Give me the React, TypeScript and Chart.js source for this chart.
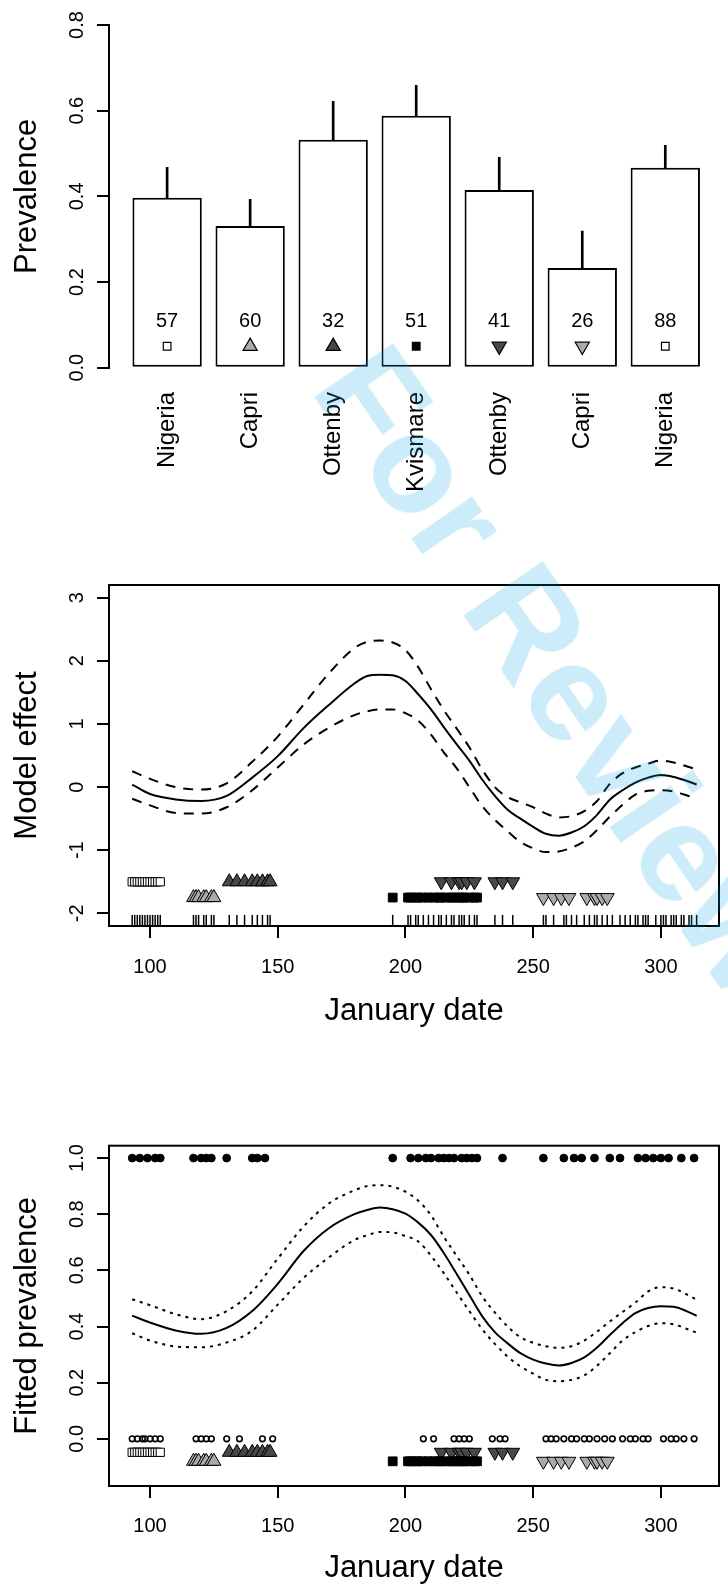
import React, { useEffect, useRef } from "react";
import { Chart, registerables } from "chart.js";

Chart.register(...registerables);

const FONT = '"Liberation Sans", Arial, Helvetica, sans-serif';
Chart.defaults.font.family = FONT;
Chart.defaults.color = "#000";

// ---------- Panel 1: prevalence per site ----------
const sites = ["Nigeria", "Capri", "Ottenby", "Kvismare", "Ottenby", "Capri", "Nigeria"];
const prevalence = [0.397, 0.331, 0.532, 0.588, 0.415, 0.233, 0.467];
const prevalenceUpper = [0.468, 0.393, 0.622, 0.659, 0.491, 0.319, 0.519];
const sampleSizes = [57, 60, 32, 51, 41, 26, 88];
const prevalenceTicks = [0, 0.2, 0.4, 0.6, 0.8];

// ---------- Panels 2 & 3: smooth of January date ----------
const curveDates = [93, 100, 110, 120, 130, 140, 150, 160, 170, 180, 185, 190, 195, 200, 205, 210, 215, 220, 225, 230, 235, 240, 245, 250, 255, 260, 265, 270, 275, 280, 285, 290, 295, 300, 305, 310, 314];
const effectFit = [0.04, -0.11, -0.195, -0.22, -0.14, 0.15, 0.49, 0.93, 1.3, 1.64, 1.76, 1.78, 1.77, 1.68, 1.47, 1.23, 0.95, 0.68, 0.42, 0.12, -0.14, -0.36, -0.5, -0.63, -0.74, -0.77, -0.72, -0.62, -0.44, -0.2, -0.05, 0.07, 0.15, 0.19, 0.16, 0.1, 0.04];
const effectUpper = [0.25, 0.13, 0.0, -0.04, 0.06, 0.4, 0.8, 1.3, 1.8, 2.2, 2.3, 2.32, 2.29, 2.17, 1.9, 1.55, 1.22, 0.93, 0.63, 0.28, 0.0, -0.16, -0.24, -0.32, -0.42, -0.48, -0.46, -0.38, -0.22, 0.05, 0.22, 0.31, 0.37, 0.42, 0.39, 0.33, 0.28];
const effectLower = [-0.185, -0.29, -0.41, -0.42, -0.32, -0.05, 0.31, 0.67, 0.94, 1.14, 1.2, 1.23, 1.23, 1.17, 1.05, 0.83, 0.55, 0.3, 0.0, -0.3, -0.52, -0.7, -0.87, -0.97, -1.03, -1.02, -0.96, -0.86, -0.68, -0.47, -0.28, -0.12, -0.06, -0.05, -0.07, -0.13, -0.19];
const fittedPrev = [0.439, 0.414, 0.386, 0.374, 0.395, 0.455, 0.552, 0.668, 0.75, 0.8, 0.815, 0.824, 0.818, 0.802, 0.77, 0.726, 0.662, 0.588, 0.512, 0.437, 0.38, 0.34, 0.305, 0.282, 0.268, 0.261, 0.27, 0.29, 0.325, 0.37, 0.412, 0.448, 0.466, 0.472, 0.47, 0.455, 0.438];
const fittedUpper = [0.497, 0.476, 0.444, 0.426, 0.455, 0.525, 0.642, 0.755, 0.838, 0.885, 0.9, 0.903, 0.898, 0.88, 0.848, 0.796, 0.72, 0.652, 0.585, 0.508, 0.45, 0.4, 0.362, 0.342, 0.33, 0.324, 0.33, 0.35, 0.382, 0.418, 0.452, 0.485, 0.525, 0.54, 0.535, 0.515, 0.495];
const fittedLower = [0.376, 0.35, 0.329, 0.326, 0.343, 0.385, 0.478, 0.572, 0.646, 0.708, 0.725, 0.737, 0.735, 0.722, 0.703, 0.652, 0.59, 0.522, 0.455, 0.391, 0.338, 0.293, 0.258, 0.232, 0.21, 0.205, 0.21, 0.226, 0.26, 0.305, 0.35, 0.38, 0.402, 0.412, 0.408, 0.392, 0.378];

const dateTicks = [100, 150, 200, 250, 300];
const effectTicks = [-2, -1, 0, 1, 2, 3];
const fittedTicks = [0, 0.2, 0.4, 0.6, 0.8, 1.0];

// sample dates per site
const nigeriaDates = [93, 94, 95, 96, 97, 98, 99, 100, 101, 102, 103, 104];
const capriSpringDates = [117, 118, 119, 121, 122, 124, 125];
const ottenbySpringDates = [131, 134, 137, 140, 142, 144, 146, 147];
const kvismareDates = [195, 201, 202, 204, 205, 207, 209, 211, 213, 214, 216, 218, 219, 221, 222, 223, 225, 227, 228];
const ottenbyAutumnDates = [214, 218, 221, 222, 224, 227, 235, 238, 242];
const capriAutumnDates = [254, 258, 261, 264, 271, 274, 275, 277, 279];
const sampleDates = [93, 94, 95, 96, 97, 98, 99, 100, 101, 102, 103, 104, 117, 118, 119, 121, 122, 124, 125, 131, 134, 137, 140, 142, 144, 146, 147, 195, 201, 202, 204, 205, 207, 209, 211, 213, 214, 216, 218, 219, 221, 222, 223, 225, 227, 228, 235, 238, 242, 254, 255, 258, 262, 263, 265, 267, 270, 272, 274, 275, 277, 279, 281, 284, 286, 288, 290, 291, 293, 294, 295, 298, 300, 301, 302, 304, 305, 306, 308, 309, 311, 312, 314];
const infectedDates = [93, 96, 99, 102, 104, 117, 120, 122, 124, 130, 140, 142, 145, 195, 202, 205, 208, 210, 213, 215, 217, 219, 222, 224, 226, 228, 238, 254, 262, 266, 269, 274, 280, 284, 291, 294, 297, 300, 303, 308, 313];
const uninfectedDates = [93, 95, 97, 98, 100, 102, 104, 118, 120, 122, 124, 130, 135, 144, 148, 207, 211, 219, 221, 223, 225, 234, 237, 239, 255, 257, 259, 262, 265, 267, 270, 272, 275, 278, 281, 285, 288, 290, 293, 295, 301, 304, 306, 309, 313];

// ---------- styles ----------
const LIGHT_GREY = "#ababab";
const DARK_GREY = "#484848";
type MStyle = { pointStyle: any; rotation: number; fill: string; radius: number };
const SQUARE_OPEN: MStyle = { pointStyle: "rect", rotation: 0, fill: "#ffffff", radius: 5.8 };
const SQUARE_BLACK: MStyle = { pointStyle: "rect", rotation: 0, fill: "#000000", radius: 6.2 };
const TRI_UP_LIGHT: MStyle = { pointStyle: "triangle", rotation: 0, fill: LIGHT_GREY, radius: 8 };
const TRI_UP_DARK: MStyle = { pointStyle: "triangle", rotation: 0, fill: DARK_GREY, radius: 8 };
const TRI_DOWN_DARK: MStyle = { pointStyle: "triangle", rotation: 180, fill: DARK_GREY, radius: 8 };
const TRI_DOWN_LIGHT: MStyle = { pointStyle: "triangle", rotation: 180, fill: LIGHT_GREY, radius: 8 };
const barMarkerStyles = [SQUARE_OPEN, TRI_UP_LIGHT, TRI_UP_DARK, SQUARE_BLACK, TRI_DOWN_DARK, TRI_DOWN_LIGHT, SQUARE_OPEN];
const siteGroups = [
  { dates: nigeriaDates, row: 0, style: SQUARE_OPEN },
  { dates: capriSpringDates, row: 1, style: TRI_UP_LIGHT },
  { dates: ottenbySpringDates, row: 0, style: TRI_UP_DARK },
  { dates: kvismareDates, row: 1, style: SQUARE_BLACK },
  { dates: ottenbyAutumnDates, row: 0, style: TRI_DOWN_DARK },
  { dates: capriAutumnDates, row: 1, style: TRI_DOWN_LIGHT },
];

const MARKER_Y_BAR = 0.05;
const COUNT_Y_BAR = 0.109;
const EFFECT_ROWS = [-1.5, -1.75];
const RUG_Y = -2.108;
const FITTED_ROWS = [-0.048, -0.08];

// ---------- helpers ----------
const boxPlugin = {
  id: "box",
  afterDraw(chart: any) {
    const { ctx, chartArea: a } = chart;
    ctx.save();
    ctx.strokeStyle = "#000";
    ctx.lineWidth = 2;
    ctx.strokeRect(a.left, a.top, a.right - a.left, a.bottom - a.top);
    ctx.restore();
  },
};

const countsPlugin = {
  id: "counts",
  afterDatasetsDraw(chart: any) {
    const { ctx } = chart;
    const xs = chart.scales.x;
    const ys = chart.scales.y;
    ctx.save();
    ctx.font = `20px ${FONT}`;
    ctx.fillStyle = "#000";
    ctx.textAlign = "center";
    ctx.textBaseline = "middle";
    sampleSizes.forEach((n, i) => {
      ctx.fillText(String(n), xs.getPixelForValue(i + 1), ys.getPixelForValue(COUNT_Y_BAR));
    });
    ctx.restore();
  },
};

function markerDataset(dates: number[], y: number, s: MStyle) {
  return {
    type: "scatter",
    data: dates.map((d) => ({ x: d, y })),
    showLine: false,
    pointStyle: s.pointStyle,
    pointRotation: s.rotation,
    pointRadius: s.radius,
    pointBackgroundColor: s.fill,
    pointBorderColor: "#000",
    pointBorderWidth: 1,
    order: 1,
  };
}

function curveDataset(ys: number[], dash: number[]) {
  return {
    type: "scatter",
    data: curveDates.map((d, i) => ({ x: d, y: ys[i] })),
    showLine: true,
    borderColor: "#000",
    borderWidth: 2,
    borderDash: dash,
    pointRadius: 0,
    cubicInterpolationMode: "monotone",
    fill: false,
    order: 2,
  };
}

function rugDataset(y: number) {
  return {
    type: "scatter",
    data: sampleDates.map((d) => ({ x: d, y })),
    showLine: false,
    pointStyle: "line",
    pointRotation: 90,
    pointRadius: 5.3,
    pointBorderColor: "#000",
    pointBorderWidth: 1.5,
    order: 1,
  };
}

function dateAxis(height: number, tickPad: number, titlePad: number) {
  return {
    type: "linear",
    min: 83.925,
    max: 322.75,
    afterBuildTicks: (s: any) => {
      s.ticks = dateTicks.map((v) => ({ value: v }));
    },
    afterFit: (s: any) => {
      s.height = height;
    },
    grid: { drawOnChartArea: false, drawTicks: true, tickLength: 12, color: "#000", lineWidth: 2 },
    border: { display: false },
    ticks: { autoSkip: false, maxRotation: 0, minRotation: 0, padding: tickPad, font: { size: 20 }, color: "#000", callback: (v: any) => String(v) },
    title: { display: true, text: "January date", font: { size: 31 }, color: "#000", padding: { top: 0, bottom: titlePad } },
  };
}

function valueAxis(min: number, max: number, ticks: number[], fmt: (v: number) => string, pad: number, title: string, border: boolean) {
  return {
    type: "linear",
    min,
    max,
    afterBuildTicks: (s: any) => {
      s.ticks = ticks.map((v) => ({ value: v }));
    },
    afterFit: (s: any) => {
      s.width = 109;
    },
    grid: { drawOnChartArea: false, drawTicks: true, tickLength: 12, color: "#000", lineWidth: 2 },
    border: { display: border, color: "#000", width: 2 },
    ticks: { minRotation: 90, maxRotation: 90, crossAlign: "center", padding: pad, font: { size: 20 }, color: "#000", callback: (v: any) => fmt(Number(v)) },
    title: { display: true, text: title, font: { size: 31 }, color: "#000", padding: { top: 8.7, bottom: 0 } },
  };
}

const commonOpts = {
  animation: false,
  responsive: false,
  devicePixelRatio: 1,
  events: [],
  plugins: { legend: { display: false }, tooltip: { enabled: false } },
};

function barConfig(): any {
  return {
    type: "bar",
    data: {
      datasets: [
        {
          type: "bar",
          data: prevalence.map((v, i) => ({ x: i + 1, y: v })),
          backgroundColor: "#ffffff",
          borderColor: "#000",
          borderWidth: 2,
          borderSkipped: false,
          grouped: false,
          categoryPercentage: 1,
          barPercentage: 0.835,
          order: 3,
        },
        {
          type: "bar",
          data: prevalence.map((v, i) => ({ x: i + 1, y: [v, prevalenceUpper[i]] })),
          backgroundColor: "#000",
          borderWidth: 0,
          grouped: false,
          barThickness: 2,
          order: 2,
        },
        {
          type: "scatter",
          data: sites.map((_, i) => ({ x: i + 1, y: MARKER_Y_BAR })),
          pointStyle: barMarkerStyles.map((s) => s.pointStyle),
          pointRotation: barMarkerStyles.map((s) => s.rotation),
          pointRadius: barMarkerStyles.map((s) => (s.pointStyle === "rect" ? 5.4 : 8.2)),
          pointBackgroundColor: barMarkerStyles.map((s) => s.fill),
          pointBorderColor: "#000",
          pointBorderWidth: 1.2,
          order: 1,
        },
      ],
    },
    options: {
      ...commonOpts,
      layout: { padding: { left: 0, top: 25, right: 0, bottom: 0 } },
      scales: {
        x: {
          type: "linear",
          min: 0.3,
          max: 7.642,
          offset: false,
          afterBuildTicks: (s: any) => {
            s.ticks = sites.map((_, i) => ({ value: i + 1 }));
          },
          afterFit: (s: any) => {
            s.height = 500 - 367.7;
          },
          grid: { display: false, drawTicks: false },
          border: { display: false },
          ticks: { autoSkip: false, minRotation: 90, maxRotation: 90, padding: 24.3, font: { size: 24 }, color: "#000", callback: (v: any) => sites[Math.round(Number(v)) - 1] },
        },
        y: valueAxis(0, 0.8, prevalenceTicks, (v) => v.toFixed(1), 5.3, "Prevalence", true),
      },
    },
    plugins: [countsPlugin],
  };
}

function effectConfig(): any {
  return {
    type: "scatter",
    data: {
      datasets: [
        curveDataset(effectUpper, [10, 8]),
        curveDataset(effectFit, []),
        curveDataset(effectLower, [10, 8]),
        ...siteGroups.map((g) => markerDataset(g.dates, EFFECT_ROWS[g.row], g.style)),
        rugDataset(RUG_Y),
      ],
    },
    options: {
      ...commonOpts,
      layout: { padding: { left: 0, top: 85, right: -3.5, bottom: 0 } },
      scales: {
        x: dateAxis(114, 17, 9.9),
        y: valueAxis(-2.2, 3.2, effectTicks, (v) => String(v), 10.3, "Model effect", false),
      },
    },
    plugins: [boxPlugin],
  };
}

function fittedConfig(): any {
  return {
    type: "scatter",
    data: {
      datasets: [
        curveDataset(fittedUpper, [3, 5]),
        curveDataset(fittedPrev, []),
        curveDataset(fittedLower, [3, 5]),
        {
          type: "scatter",
          data: infectedDates.map((d) => ({ x: d, y: 1 })),
          pointStyle: "circle",
          pointRadius: 3.9,
          pointBackgroundColor: "#000",
          pointBorderColor: "#000",
          pointBorderWidth: 1,
          order: 1,
        },
        {
          type: "scatter",
          data: uninfectedDates.map((d) => ({ x: d, y: 0 })),
          pointStyle: "circle",
          pointRadius: 2.8,
          pointBackgroundColor: "rgba(0,0,0,0)",
          pointBorderColor: "#000",
          pointBorderWidth: 1.6,
          order: 1,
        },
        ...siteGroups.map((g) => markerDataset(g.dates, FITTED_ROWS[g.row], g.style)),
      ],
    },
    options: {
      ...commonOpts,
      layout: { padding: { left: 0, top: 105.7, right: -3.5, bottom: 0 } },
      scales: {
        x: dateAxis(104, 16, 3.2),
        y: valueAxis(-0.168, 1.044, fittedTicks, (v) => v.toFixed(1), 5.3, "Fitted prevalence", false),
      },
    },
    plugins: [boxPlugin],
  };
}

export default function App() {
  const r1 = useRef<HTMLCanvasElement>(null);
  const r2 = useRef<HTMLCanvasElement>(null);
  const r3 = useRef<HTMLCanvasElement>(null);

  useEffect(() => {
    const charts = [
      new Chart(r1.current as HTMLCanvasElement, barConfig()),
      new Chart(r2.current as HTMLCanvasElement, effectConfig()),
      new Chart(r3.current as HTMLCanvasElement, fittedConfig()),
    ];
    return () => charts.forEach((c) => c.destroy());
  }, []);

  const canvasStyle = (top: number, h: number): React.CSSProperties => ({ position: "absolute", left: 0, top, width: 728, height: h });

  return (
    <div style={{ position: "absolute", left: 0, top: 0, width: 728, height: 1590, overflow: "hidden", background: "#ffffff" }}>
      <canvas ref={r1} width={728} height={500} style={canvasStyle(0, 500)} />
      <canvas ref={r2} width={728} height={540} style={canvasStyle(500, 540)} />
      <canvas ref={r3} width={728} height={550} style={canvasStyle(1040, 550)} />
      <div
        style={{
          position: "absolute",
          left: 560,
          top: 670,
          transform: "translate(-50%, -50%) rotate(55.5deg)",
          font: `bold 140px ${FONT}`,
          lineHeight: 1,
          color: "rgba(0,160,230,0.2)",
          whiteSpace: "nowrap",
          pointerEvents: "none",
        }}
      >
        For Review
      </div>
    </div>
  );
}
